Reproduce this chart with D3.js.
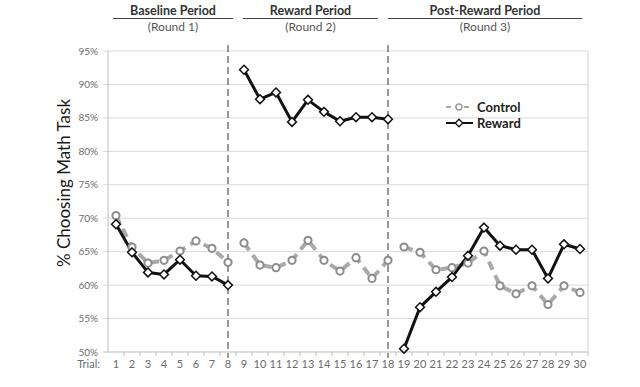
<!DOCTYPE html>
<html>
<head>
<meta charset="utf-8">
<script src="https://cdn.jsdelivr.net/npm/d3@7"></script>
<style>
  body { margin: 0; background: #fff; }
  text { font-family: Lato, "Open Sans", sans-serif; }
</style>
</head>
<body>
<script>
var w = 640;
var h = 387;

// trials 1..30
var trials = d3.range(1, 31);
var control = [70.4, 65.7, 63.3, 63.7, 65.1, 66.6, 65.5, 63.4,
  66.3, 63.0, 62.6, 63.7, 66.7, 63.7, 62.1, 64.1, 61.0, 63.7,
  65.7, 64.9, 62.3, 62.6, 63.3, 65.1, 59.9, 58.7, 59.9, 57.1, 59.9, 58.9];
var reward = [69.1, 64.9, 61.9, 61.6, 63.8, 61.4, 61.3, 60.0,
  92.2, 87.8, 88.8, 84.4, 87.7, 85.9, 84.5, 85.1, 85.1, 84.8,
  50.5, 56.7, 59.0, 61.2, 64.4, 68.6, 65.9, 65.3, 65.3, 61.0, 66.1, 65.4];
var periods = [
  { name: "Baseline Period", round: "(Round 1)", from: 1, to: 8 },
  { name: "Reward Period", round: "(Round 2)", from: 9, to: 18 },
  { name: "Post-Reward Period", round: "(Round 3)", from: 19, to: 30 }
];
var yTicks = [50, 55, 60, 65, 70, 75, 80, 85, 90, 95];

var pLeft = 108, pRight = 588, pTop = 51, pBottom = 352;

var xScale = d3.scaleBand().domain(trials).range([pLeft, pRight]);
var yScale = d3.scaleLinear().domain([50, 95]).range([pBottom, pTop]);
var cx = function (t) { return xScale(t) + xScale.bandwidth() / 2; };

var svg = d3.select("body").append("svg").attr("width", w).attr("height", h);

// gridlines
svg.selectAll(".grid").data(yTicks).enter().append("line")
  .attr("x1", pLeft - 5).attr("x2", pRight)
  .attr("y1", function (d) { return yScale(d); })
  .attr("y2", function (d) { return yScale(d); })
  .attr("stroke", function (d) { return d == 50 ? "#bdbdbd" : "#d9d9d9"; })
  .attr("stroke-width", 1);

// axis lines and right border
svg.append("line").attr("x1", pLeft).attr("x2", pLeft).attr("y1", pTop).attr("y2", pBottom).attr("stroke", "#bdbdbd");
svg.append("line").attr("x1", pRight).attr("x2", pRight).attr("y1", pTop).attr("y2", pBottom).attr("stroke", "#d0d0d0");

// x ticks between categories
svg.selectAll(".xtick").data(trials).enter().append("line")
  .attr("x1", function (d) { return xScale(d) + xScale.bandwidth(); })
  .attr("x2", function (d) { return xScale(d) + xScale.bandwidth(); })
  .attr("y1", pBottom).attr("y2", pBottom + 4)
  .attr("stroke", "#bdbdbd");

// y tick labels
svg.selectAll(".ylab").data(yTicks).enter().append("text")
  .attr("x", 98).attr("y", function (d) { return yScale(d) + 3.5; })
  .attr("text-anchor", "end").attr("font-size", "10px").attr("fill", "#6b6b6b")
  .text(function (d) { return d + "%"; });

// x tick labels
svg.selectAll(".xlab").data(trials).enter().append("text")
  .attr("x", function (d) { return cx(d); }).attr("y", 368)
  .attr("text-anchor", "middle").attr("font-size", "11px").attr("fill", "#6b6b6b")
  .text(function (d) { return d; });
svg.append("text").attr("x", 100).attr("y", 368).attr("text-anchor", "end")
  .attr("font-size", "11px").attr("fill", "#6b6b6b").text("Trial:");

// y title
svg.append("text")
  .attr("transform", "translate(70,183) rotate(-90)")
  .attr("text-anchor", "middle").attr("font-size", "17px").attr("fill", "#1a1a1a")
  .text("% Choosing Math Task");

// period dividers
[8, 18].forEach(function (t) {
  svg.append("line").attr("x1", cx(t)).attr("x2", cx(t)).attr("y1", 45).attr("y2", 358)
    .attr("stroke", "#555").attr("stroke-width", 1.2).attr("stroke-dasharray", "7,4");
});

// period headers
var headerSpans = [[113, 233], [243, 378], [388, 582]];
periods.forEach(function (p, i) {
  var s = headerSpans[i];
  var mid = (s[0] + s[1]) / 2;
  svg.append("text").attr("x", mid).attr("y", 15).attr("text-anchor", "middle")
    .attr("font-size", "12.5px").attr("font-weight", "bold").attr("fill", "#333").text(p.name);
  svg.append("line").attr("x1", s[0]).attr("x2", s[1]).attr("y1", 18.5).attr("y2", 18.5)
    .attr("stroke", "#444").attr("stroke-width", 1.2);
  svg.append("text").attr("x", mid).attr("y", 30.5).attr("text-anchor", "middle")
    .attr("font-size", "12px").attr("fill", "#555").text(p.round);
});

var line = d3.line()
  .x(function (d) { return cx(d.t); })
  .y(function (d) { return yScale(d.v); });

function segments(values) {
  return periods.map(function (p) {
    return trials.filter(function (t) { return t >= p.from && t <= p.to; })
      .map(function (t) { return { t: t, v: values[t - 1] }; });
  });
}

// control series
svg.selectAll(".cline").data(segments(control)).enter().append("path")
  .attr("d", line).attr("fill", "none").attr("stroke", "#a9a9a9")
  .attr("stroke-width", 4).attr("stroke-dasharray", "9,6");

// reward series
svg.selectAll(".rline").data(segments(reward)).enter().append("path")
  .attr("d", line).attr("fill", "none").attr("stroke", "#111")
  .attr("stroke-width", 3).attr("stroke-linejoin", "round");

svg.selectAll(".cdot").data(trials).enter().append("circle")
  .attr("cx", function (d) { return cx(d); })
  .attr("cy", function (d) { return yScale(control[d - 1]); })
  .attr("r", 3.6).attr("fill", "#fff").attr("stroke", "#8c8c8c").attr("stroke-width", 2);

var diamond = d3.symbol().type(d3.symbolDiamond2).size(50);
svg.selectAll(".rdot").data(trials).enter().append("path")
  .attr("d", diamond)
  .attr("transform", function (d) { return "translate(" + cx(d) + "," + yScale(reward[d - 1]) + ")"; })
  .attr("fill", "#fff").attr("stroke", "#111").attr("stroke-width", 1.5);

// legend
var lg = svg.append("g");
lg.append("line").attr("x1", 446).attr("x2", 473).attr("y1", 107).attr("y2", 107)
  .attr("stroke", "#a9a9a9").attr("stroke-width", 2).attr("stroke-dasharray", "5,4");
lg.append("circle").attr("cx", 459).attr("cy", 107).attr("r", 3).attr("fill", "#fff")
  .attr("stroke", "#9a9a9a").attr("stroke-width", 1.3);
lg.append("text").attr("x", 477).attr("y", 111.5).attr("font-size", "13px").attr("font-weight", "bold")
  .attr("fill", "#222").text("Control");
lg.append("line").attr("x1", 446).attr("x2", 473).attr("y1", 123).attr("y2", 123)
  .attr("stroke", "#111").attr("stroke-width", 2);
lg.append("path").attr("d", d3.symbol().type(d3.symbolDiamond2).size(36))
  .attr("transform", "translate(459,123)").attr("fill", "#fff").attr("stroke", "#111").attr("stroke-width", 1.3);
lg.append("text").attr("x", 477).attr("y", 127.5).attr("font-size", "13px").attr("font-weight", "bold")
  .attr("fill", "#222").text("Reward");
</script>
</body>
</html>
